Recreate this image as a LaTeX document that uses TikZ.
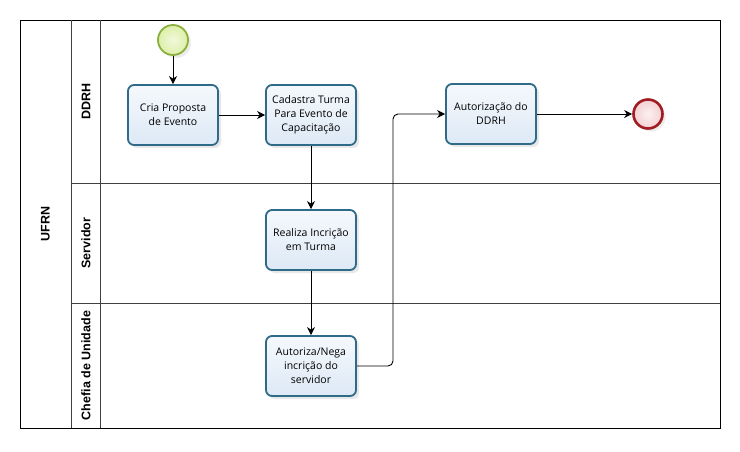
\documentclass[tikz,border=0pt]{standalone}
\usepackage{fontspec}
\setmainfont{Open Sans}
\newfontfamily\lanefont{Liberation Sans}
\usetikzlibrary{arrows.meta,shadows}
\definecolor{taskborder}{HTML}{2F6B88}
\definecolor{taskfill}{HTML}{DDE9F6}
\definecolor{startborder}{HTML}{8BB03C}
\definecolor{startfill}{HTML}{DDEFA8}
\definecolor{endborder}{HTML}{A01D24}
\definecolor{endfill}{HTML}{F4CFD2}
\tikzset{
  task/.style={draw=taskborder, line width=1.8pt, rounded corners=6pt,
    minimum width=90pt, minimum height=60pt, align=center,
    top color=white!70!taskfill, bottom color=taskfill,
    font=\fontsize{10.5}{14}\selectfont,
    drop shadow={opacity=0.18, shadow xshift=3pt, shadow yshift=-3pt}},
  startev/.style={circle, draw=startborder, line width=1.8pt, minimum size=30pt,
    inner color=white!60!startfill, outer color=startfill,
    drop shadow={opacity=0.15, shadow xshift=3pt, shadow yshift=-3pt}},
  endev/.style={circle, draw=endborder, line width=2.6pt, minimum size=29pt,
    inner color=white!70!endfill, outer color=endfill,
    drop shadow={opacity=0.15, shadow xshift=3pt, shadow yshift=-3pt}},
  flow/.style={draw=black, line width=0.9pt, -{Stealth[length=8pt,width=8pt,inset=2.5pt]}},
  lanelabel/.style={rotate=90, font=\lanefont\bfseries\fontsize{12.5}{14}\selectfont},
  poolline/.style={draw=black, line width=0.9pt},
  laneline/.style={draw=black!75, line width=0.7pt}
}
\begin{document}
\begin{tikzpicture}[x=1pt,y=-1pt]
\useasboundingbox[fill=white] (0,0) rectangle (740,451);
% pool and lanes
\draw[poolline] (20,20) rectangle (720,428);
\draw[laneline] (71,20) -- (71,428);
\draw[laneline] (100,20) -- (100,428);
\draw[laneline] (71,183) -- (720,183);
\draw[laneline] (71,303) -- (720,303);
\node[lanelabel] (pool) at (45.5,224) {UFRN};
\node[lanelabel] (l1) at (86,101.5) {DDRH};
\node[lanelabel] (l2) at (86,243) {Servidor};
\node[lanelabel] (l3) at (86,365.5) {Chefia de Unidade};
% events and tasks
\node[startev] (start) at (173,40) {};
\node[task] (cria) at (173,115) {Cria Proposta\\de Evento};
\node[task] (cad) at (311,115) {Cadastra Turma\\Para Evento de\\Capacitação};
\node[task] (aut) at (491,114) {Autorização do\\DDRH};
\node[endev] (fim) at (648,114) {};
\node[task] (real) at (311,240) {Realiza Incrição\\em Turma};
\node[task] (neg) at (311,366) {Autoriza/Nega\\incrição do\\servidor};
\coordinate (bend) at (393,366);
% flows
\draw[flow] (start) -- (cria);
\draw[flow] (cria) -- (cad);
\draw[flow] (cad) -- (real);
\draw[flow] (real) -- (neg);
\draw[flow, rounded corners=5pt] (neg.east) -- (bend) |- (aut.west);
\draw[flow] (aut) -- (fim);
\end{tikzpicture}
\end{document}
